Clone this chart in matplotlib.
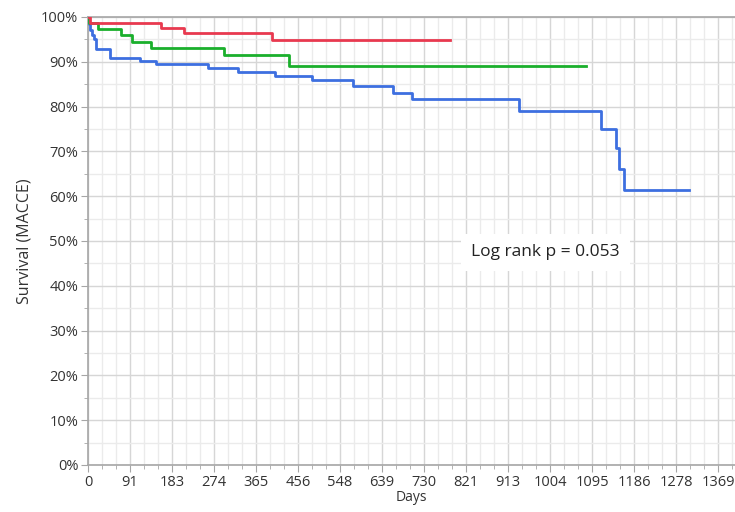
import numpy as np
import matplotlib.pyplot as plt
from matplotlib.ticker import FixedLocator, MultipleLocator, PercentFormatter

# ---------------------------------------------------------------------------
# Data
# ---------------------------------------------------------------------------

red_days = [0, 4, 159, 209, 400, 786]
red_surv = [100, 98.7, 97.6, 96.5, 94.8, 94.8]

green_days = [0, 3, 22, 71, 96, 136, 295, 437, 1081]
green_surv = [100, 98.6, 97.3, 96.0, 94.5, 93.0, 91.5, 89.1, 89.1]

blue_days = [0, 2, 5, 8, 12, 17, 48, 112, 148, 261, 325, 406, 486, 576, 662,
             703, 936, 1114, 1146, 1154, 1163, 1306]
blue_surv = [100, 98.5, 97.0, 96.0, 95.0, 92.8, 90.8, 90.2, 89.4, 88.7, 87.8,
             86.8, 85.9, 84.6, 83.1, 81.6, 79.1, 75.1, 70.7, 66.0, 61.4, 61.4]

x_ticks = [0, 91.25, 182.5, 273.75, 365, 456.25, 547.5, 638.75, 730, 821.25,
           912.5, 1003.75, 1095, 1186.25, 1277.5, 1368.75]
x_labels = ["0", "91", "183", "274", "365", "456", "548", "639", "730", "821",
            "913", "1004", "1095", "1186", "1278", "1369"]

p_text = "Log rank p = 0.053"

# ---------------------------------------------------------------------------
# Figure
# ---------------------------------------------------------------------------

plt.rcParams['font.family'] = ['Open Sans', 'DejaVu Sans']

fig = plt.figure(figsize=(7.35, 5.12), dpi=100)
ax = fig.add_axes([0.1197, 0.0918, 0.8803, 0.875])

axis_col = "#a6a6a6"
ax.grid(which='major', color="#d6d6d6", linewidth=1.0, zorder=0)
ax.grid(which='minor', color="#ebebeb", linewidth=1.0, zorder=0)

ax.step(blue_days, blue_surv, where='post', color="#3d6fe0", lw=2.0, zorder=3)
ax.step(green_days, green_surv, where='post', color="#1aaf2c", lw=2.0, zorder=4)
ax.step(red_days, red_surv, where='post', color="#e8394f", lw=2.0, zorder=5)

ax.set_xlim(0, 1405)
ax.set_ylim(0, 100)

ax.xaxis.set_major_locator(FixedLocator(x_ticks))
ax.set_xticklabels(x_labels)
ax.xaxis.set_minor_locator(MultipleLocator(91.25 / 3))
ax.yaxis.set_major_locator(MultipleLocator(10))
ax.yaxis.set_minor_locator(MultipleLocator(5))
ax.yaxis.set_major_formatter(PercentFormatter(decimals=0))

for side in ['left', 'bottom', 'top']:
    ax.spines[side].set_color(axis_col)
    ax.spines[side].set_linewidth(1.2)
ax.spines['right'].set_visible(False)

ax.tick_params(which='major', length=5, color=axis_col, labelsize=10.5,
               labelcolor="#333333", pad=2)
ax.tick_params(which='minor', length=3, color=axis_col)

ax.set_xlabel("Days", fontsize=10, color="#333333", labelpad=0)
ax.set_ylabel("Survival (MACCE)", fontsize=11.5, color="#333333", labelpad=6)

ax.text(993, 47.5, p_text, fontsize=12.5, color="#222222", ha='center',
        va='center', zorder=6,
        bbox=dict(boxstyle='square,pad=0.6', facecolor='white',
                  edgecolor='none'))

fig.savefig("out.png", dpi=100)
